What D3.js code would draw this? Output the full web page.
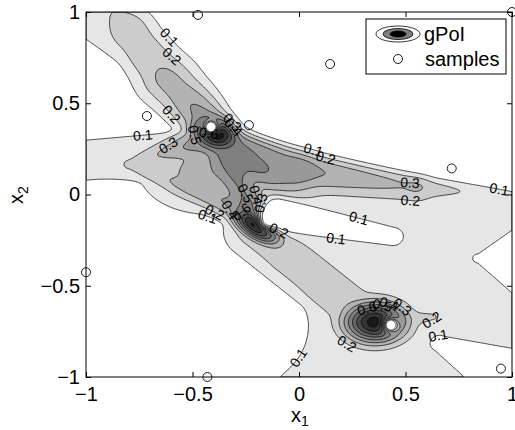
<!DOCTYPE html>
<html>
<head>
<meta charset="utf-8">
<script src="https://cdn.jsdelivr.net/npm/d3@7"></script>
<style>
  body { margin: 0; background: #fff; }
  text { font-family: "Liberation Sans", Arial, Helvetica, sans-serif; }
</style>
</head>
<body>
<div id="chart"></div>
<script>
// ---- data ----
const xTicks = [-1, -0.5, 0, 0.5, 1];
const yTicks = [-1, -0.5, 0, 0.5, 1];
const tickLabels = ["\u22121", "\u22120.5", "0", "0.5", "1"];
const levels = [0.1, 0.2, 0.3, 0.4, 0.5, 0.6, 0.7, 0.8, 0.9];

// evaluated samples (open circles)
const sampleX = [-0.474, 1.0, 0.146, -0.714, -0.235, 0.717, -1.0, -0.43, 0.948];
const sampleY = [0.984, 1.0, 0.715, 0.43, 0.38, 0.143, -0.426, -1.0, -0.954];
// best samples (white dots)
const bestX = [-0.413, -0.144, 0.432];
const bestY = [0.37, -0.14, -0.715];

// gPoI surface, described as a few shapes
const bgLevel = 0.17;
// ridges: x0, y0, x1, y1, height0, height1, width0, width1
const ridges = [
  [-0.40, 0.37, -0.62, 0.63, 0.50, 0.29, 0.08, 0.105],
  [-0.62, 0.63, -0.80, 0.90, 0.29, 0.22, 0.105, 0.10],
  [-0.80, 0.90, -0.95, 1.10, 0.22, 0.13, 0.10, 0.09],
  [-0.38, 0.32, 0.0, 0.14, 0.55, 0.43, 0.08, 0.10],
  [0.0, 0.14, 0.55, 0.05, 0.43, 0.30, 0.10, 0.08],
  [0.55, 0.05, 1.05, 0.0, 0.28, 0.14, 0.07, 0.045],
  [-0.80, 0.17, -0.42, 0.30, 0.18, 0.50, 0.04, 0.08],
  [-0.80, 0.16, -0.25, -0.08, 0.18, 0.45, 0.04, 0.07],
  [-0.38, 0.30, -0.20, -0.14, 0.50, 0.50, 0.09, 0.07],
  [-0.20, -0.20, 0.34, -0.70, 0.27, 0.27, 0.11, 0.11],
  [0.36, -0.70, 0.63, -0.67, 0.28, 0.19, 0.06, 0.04]
];
// peaks: cx, cy, height, spread along, spread across, angle (deg)
const peaks = [
  [-0.42, 0.12, 0.38, 0.20, 0.14, 0],
  [-0.20, 0.14, 0.50, 0.22, 0.09, -22],
  [-0.39, 0.34, 1.0, 0.09, 0.07, -25],
  [-0.20, -0.17, 0.97, 0.10, 0.05, -40],
  [0.357, -0.70, 0.95, 0.11, 0.085, 0]
];
// white areas of the background (value < 0.1): capsule x0, y0, x1, y1, radius0, radius1
const whiteZones = [
  [0.8756, 1.77, 0.8756, 1.77, 1.766, 1.766],
  [-0.2, 0.52, -0.2, 0.52, 0.15, 0.15],
  [-1.1, 0.57, -0.5, 0.39, 0.30, 0.04],
  [-0.9, -0.75, -0.9, -0.75, 0.83, 0.83],
  [-0.3, -0.72, -0.3, -0.72, 0.34, 0.34],
  [1.2, -0.37, 0.84, -0.35, 0.35, 0.02],
  [1.27, -1.156, 0.66, -0.816, 0.26, 0.04]
];
// sharp cuts through the whole surface: upper white area and the tongue right of the middle best sample
const upperCut = [1.97, 6.61, 1.97, 6.61, 6.65, 6.65];
const tongue = [-0.10, -0.11, 0.44, -0.23, 0.085, 0.045];
const blend = 5;

// ---- layout ----
const width = 515, height = 430;
const plot = { left: 86, right: 512, top: 12, bottom: 377 };

const svg = d3.select("#chart").append("svg")
  .attr("width", width).attr("height", height);

const x = d3.scaleLinear().domain([-1, 1]).range([plot.left, plot.right]);
const y = d3.scaleLinear().domain([-1, 1]).range([plot.bottom, plot.top]);

function seg(px, py, s) {
  const dx = s[2] - s[0], dy = s[3] - s[1], L2 = dx * dx + dy * dy;
  let t = L2 > 0 ? ((px - s[0]) * dx + (py - s[1]) * dy) / L2 : 0;
  t = Math.max(0, Math.min(1, t));
  const qx = s[0] + t * dx - px, qy = s[1] + t * dy - py;
  return [Math.sqrt(qx * qx + qy * qy), t];
}
const sig = (z) => 1 / (1 + Math.exp(-z));
function outside(px, py, z, soft) {
  const [d, t] = seg(px, py, z);
  return sig((d - (z[4] + (z[5] - z[4]) * t)) / soft);
}

function field(px, py) {
  let bg = bgLevel;
  whiteZones.forEach((z) => { bg *= outside(px, py, z, 0.012); });
  let sum = Math.pow(bg, blend);
  ridges.forEach((r) => {
    const [d, t] = seg(px, py, r);
    const a = r[4] + (r[5] - r[4]) * t, w = r[6] + (r[7] - r[6]) * t;
    sum += Math.pow(a * Math.exp(-d * d / (2 * w * w)), blend);
  });
  peaks.forEach((p) => {
    const ang = p[5] * Math.PI / 180, c = Math.cos(ang), s = Math.sin(ang);
    const dx = px - p[0], dy = py - p[1];
    const u = dx * c + dy * s, w = -dx * s + dy * c;
    sum += Math.pow(p[2] * Math.exp(-(u * u) / (2 * p[3] * p[3]) - (w * w) / (2 * p[4] * p[4])), blend);
  });
  let v = Math.min(0.99, Math.pow(sum, 1 / blend));
  const cut = 1 - outside(px, py, upperCut, 0.022);
  v *= 1 - cut * sig((px + 0.3) / 0.04);
  v *= outside(px, py, tongue, 0.014);
  bestX.forEach((bx, i) => {
    const dx = px - bx, dy = py - bestY[i];
    v *= 1 - Math.exp(-(dx * dx + dy * dy) / (2 * 0.025 * 0.025));
  });
  return v;
}

const n = 320;
const values = new Float64Array(n * n);
for (let j = 0; j < n; j++) {
  for (let i = 0; i < n; i++) {
    values[j * n + i] = field(-1 + (i + 0.5) * 2 / n, 1 - (j + 0.5) * 2 / n);
  }
}
const contours = d3.contours().size([n, n]).thresholds(levels)(values);
const gx = (p) => x(-1 + 2 * p / n);
const gy = (p) => y(1 - 2 * p / n);
const path = d3.geoPath(d3.geoTransform({
  point(px, py) { this.stream.point(gx(px), gy(py)); }
}));
const grey = (t) => { const g = Math.round(255 * (1 - t)); return `rgb(${g},${g},${g})`; };

svg.append("clipPath").attr("id", "clip")
  .append("rect").attr("x", plot.left).attr("y", plot.top)
  .attr("width", plot.right - plot.left).attr("height", plot.bottom - plot.top);

const g = svg.append("g").attr("clip-path", "url(#clip)");
g.selectAll("path.fill").data(contours).join("path")
  .attr("class", "fill").attr("d", path).attr("fill", (d) => grey(d.value)).attr("stroke", "none");
g.selectAll("path.line").data(contours).join("path")
  .attr("class", "line").attr("d", path).attr("fill", "none")
  .attr("stroke", "#000").attr("stroke-width", 0.7);

// contour labels along each line
const labels = [];
contours.forEach((c) => {
  c.coordinates.forEach((poly) => poly.forEach((ring) => {
    const segs = [];
    let acc = 0;
    for (let k = 1; k < ring.length; k++) {
      const a = ring[k - 1], b = ring[k];
      const edge = (a[0] === 0 && b[0] === 0) || (a[0] === n && b[0] === n) ||
        (a[1] === 0 && b[1] === 0) || (a[1] === n && b[1] === n);
      if (edge) continue;
      const ax = gx(a[0]), ay = gy(a[1]), bx = gx(b[0]), by = gy(b[1]);
      const len = Math.hypot(bx - ax, by - ay);
      segs.push({ ax, ay, bx, by, len, s: acc });
      acc += len;
    }
    if (acc < 90) return;
    const at = (s) => {
      const sg = segs.find((q) => s >= q.s && s <= q.s + q.len) || segs[segs.length - 1];
      const f = sg.len ? (s - sg.s) / sg.len : 0;
      return [sg.ax + f * (sg.bx - sg.ax), sg.ay + f * (sg.by - sg.ay)];
    };
    for (let s = Math.min(60, acc / 2); s < acc - 10; s += 190) {
      const p = at(s), p1 = at(Math.max(0, s - 8)), p2 = at(Math.min(acc, s + 8));
      let ang = Math.atan2(p2[1] - p1[1], p2[0] - p1[0]) * 180 / Math.PI;
      if (ang > 90) ang -= 180;
      if (ang < -90) ang += 180;
      if (p[0] < plot.left + 8 || p[0] > plot.right - 8 || p[1] < plot.top + 6 || p[1] > plot.bottom - 6) continue;
      labels.push({ x: p[0], y: p[1], ang, text: d3.format(".1f")(c.value) });
    }
  }));
});
g.selectAll("text.clab").data(labels).join("text")
  .attr("class", "clab")
  .attr("transform", (d) => `translate(${d.x},${d.y}) rotate(${d.ang})`)
  .attr("text-anchor", "middle").attr("dy", "0.35em")
  .attr("font-size", 14).attr("fill", "#000")
  .text((d) => d.text);

// axes
const xAxis = d3.axisBottom(x).tickValues(xTicks).tickSize(-5).tickPadding(10)
  .tickFormat((d, i) => tickLabels[i]);
const yAxis = d3.axisLeft(y).tickValues(yTicks).tickSize(-5).tickPadding(6)
  .tickFormat((d, i) => tickLabels[i]);
const ax = svg.append("g").attr("transform", `translate(0,${plot.bottom})`).call(xAxis);
const ay = svg.append("g").attr("transform", `translate(${plot.left},0)`).call(yAxis);
svg.append("g").attr("transform", `translate(0,${plot.top})`)
  .call(d3.axisTop(x).tickValues(xTicks).tickSize(-5).tickFormat(""));
svg.append("g").attr("transform", `translate(${plot.right},0)`)
  .call(d3.axisRight(y).tickValues(yTicks).tickSize(-5).tickFormat(""));
svg.selectAll(".domain").remove();
svg.selectAll(".tick line").attr("stroke", "#000");
[ax, ay].forEach((a) => a.selectAll("text").attr("font-size", 20).attr("fill", "#000")
  .style("font-family", "'Liberation Sans', Arial, sans-serif"));
svg.append("rect").attr("x", plot.left).attr("y", plot.top)
  .attr("width", plot.right - plot.left).attr("height", plot.bottom - plot.top)
  .attr("fill", "none").attr("stroke", "#000").attr("stroke-width", 1);

// axis titles
const xt = svg.append("text").attr("x", 291).attr("y", 422).attr("font-size", 20);
xt.append("tspan").text("x");
xt.append("tspan").attr("font-size", 14).attr("dy", 4).text("1");
const yt = svg.append("text").attr("transform", "translate(23,204) rotate(-90)").attr("font-size", 20);
yt.append("tspan").text("x");
yt.append("tspan").attr("font-size", 14).attr("dy", 5).text("2");

// samples
svg.selectAll("circle.sample").data(sampleX).join("circle")
  .attr("class", "sample")
  .attr("cx", (d) => x(d)).attr("cy", (d, i) => y(sampleY[i])).attr("r", 4.5)
  .attr("fill", "none").attr("stroke", "#000").attr("stroke-width", 0.9);
svg.selectAll("circle.best").data(bestX).join("circle")
  .attr("class", "best")
  .attr("cx", (d) => x(d)).attr("cy", (d, i) => y(bestY[i])).attr("r", 4.2)
  .attr("fill", "#fff").attr("stroke", "#fff").attr("stroke-width", 0.5);

// legend
const lg = svg.append("g");
lg.append("rect").attr("x", 366).attr("y", 19).attr("width", 140).attr("height", 55)
  .attr("fill", "#fff").attr("stroke", "#000").attr("stroke-width", 1);
[[22, 8, "#fff"], [15, 5.5, grey(0.5)], [8, 3, "#000"]].forEach((e) => {
  lg.append("ellipse").attr("cx", 398).attr("cy", 34).attr("rx", e[0]).attr("ry", e[1])
    .attr("fill", e[2]).attr("stroke", "#000").attr("stroke-width", 0.8);
});
lg.append("circle").attr("cx", 398).attr("cy", 59).attr("r", 4.5)
  .attr("fill", "none").attr("stroke", "#000").attr("stroke-width", 0.9);
lg.append("text").attr("x", 424).attr("y", 41).attr("font-size", 20).text("gPoI");
lg.append("text").attr("x", 425).attr("y", 66).attr("font-size", 20).text("samples");
</script>
</body>
</html>
